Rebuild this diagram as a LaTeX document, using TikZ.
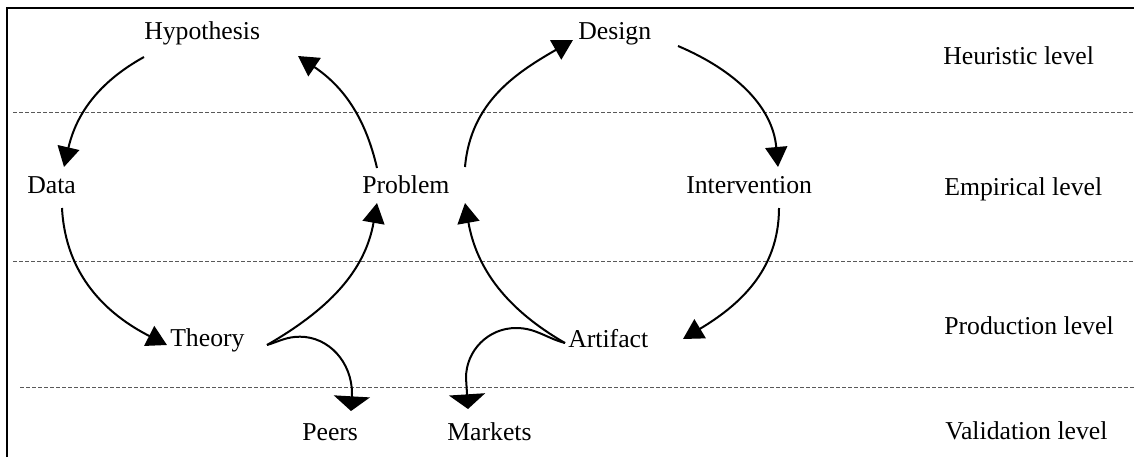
\documentclass[tikz,border=0pt]{standalone}
\usepackage{fontspec}
\setmainfont{Liberation Serif}
\usetikzlibrary{arrows.meta}
\begin{document}
\begin{tikzpicture}[x=0.75pt,y=0.75pt,
  lbl/.style={anchor=base west, inner sep=0pt, font=\fontsize{19.3}{23}\selectfont},
  conn/.style={line width=1.5pt, -{Triangle[length=15pt,width=16.5pt]}},
  connsmall/.style={line width=1.5pt, -{Triangle[length=11pt,width=27pt]}},
  levelline/.style={dash pattern=on 3pt off 1.5pt, line width=0.75pt, black!65},
  frameline/.style={line width=1.5pt}]
\useasboundingbox (0,0) rectangle (1134,-457);

% frame
\draw[frameline] (7,-457) -- (7,-7.5) -- (1134,-7.5);

% level separators
\draw[levelline] (13,-112.5) -- (1134,-112.5);
\draw[levelline] (13,-261) -- (1134,-261);
\draw[levelline] (20,-387.5) -- (1134,-387.5);

% labels
\node[lbl] (hyp) at (144,-39) {Hypothesis};
\node[lbl] (data) at (27,-193) {Data};
\node[lbl] (prob) at (362,-193) {Problem};
\node[lbl] (des) at (578,-39) {Design};
\node[lbl] (int) at (686,-193) {Intervention};
\node[lbl] (theo) at (170,-346) {Theory};
\node[lbl] (art) at (568,-347) {Artifact};
\node[lbl] (peers) at (302,-440) {Peers};
\node[lbl] (mark) at (447,-440) {Markets};
\node[lbl] (lh) at (943,-64) {Heuristic level};
\node[lbl] (le) at (944,-195) {Empirical level};
\node[lbl] (lp) at (944,-334) {Production level};
\node[lbl] (lv) at (945,-439) {Validation level};

% connector end points
\coordinate (hyp-o) at (144,-57);
\coordinate (hyp-i) at (298,-56);
\coordinate (data-i) at (64,-167);
\coordinate (data-o) at (62,-208);
\coordinate (theo-i) at (167,-345);
\coordinate (theo-o) at (267,-345);
\coordinate (prob-i1) at (377,-203);
\coordinate (prob-o1) at (377,-168);
\coordinate (prob-o2) at (465,-167);
\coordinate (prob-i2) at (465,-203);
\coordinate (des-i) at (573,-40);
\coordinate (des-o) at (678,-46);
\coordinate (int-i) at (778,-167);
\coordinate (int-o) at (779,-208);
\coordinate (art-i) at (683,-339);
\coordinate (art-o) at (565,-343);
\coordinate (peers-top) at (300,-336.7);
\coordinate (peers-i) at (351,-411);
\coordinate (mark-top) at (516,-328);
\coordinate (mark-i) at (468,-409);

% science cycle
\draw[conn] (hyp-o) to[out=209,in=77] (data-i);
\draw[conn] (data-o) to[out=273,in=153] (theo-i);
\draw[conn] (theo-o) to[out=30,in=260] (prob-i1);
\draw[conn] (prob-o1) to[out=103,in=326] (hyp-i);

% design cycle
\draw[conn] (prob-o2) to[out=85,in=210] (des-i);
\draw[conn] (des-o) to[out=337,in=95] (int-i);
\draw[conn] (int-o) to[out=270,in=31] (art-i);
\draw[conn] (art-o) to[out=150,in=280] (prob-i2);

% validation
\draw[connsmall] (theo-o) to[out=17,in=180] (peers-top)
  arc[start angle=90,end angle=0,x radius=52,y radius=57] -- (peers-i);
\draw[connsmall] (art-o) to[out=165,in=0] (mark-top)
  arc[start angle=90,end angle=180,radius=50] -- (mark-i);
\end{tikzpicture}
\end{document}
